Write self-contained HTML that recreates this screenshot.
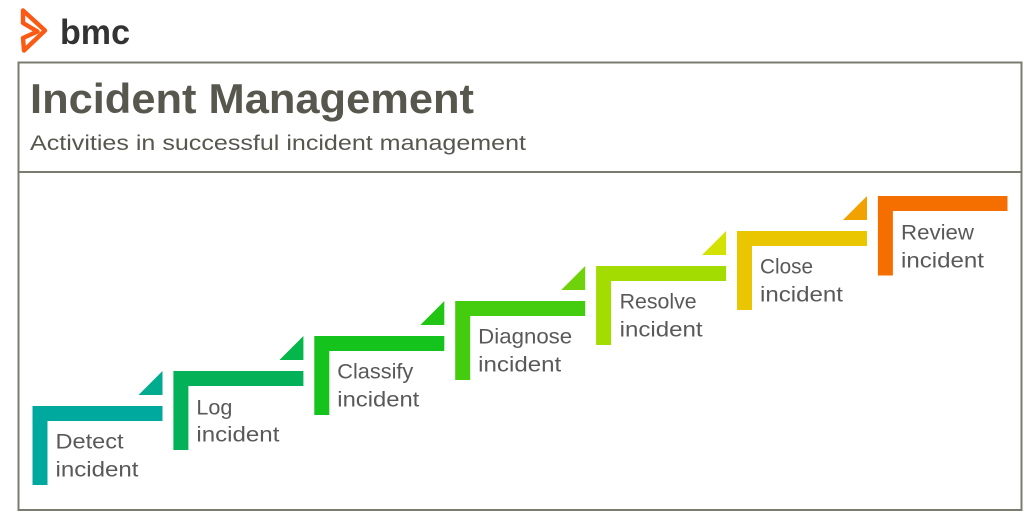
<!DOCTYPE html>
<html>
<head>
<meta charset="utf-8">
<style>
html,body{margin:0;padding:0;background:#fff;}
svg{display:block;}
text{font-family:"Liberation Sans",Arial,sans-serif;}
</style>
</head>
<body>
<svg width="1024" height="522" viewBox="0 0 1024 522" xmlns="http://www.w3.org/2000/svg">
  <rect x="0" y="0" width="1024" height="522" fill="#ffffff"/>
  <!-- bmc logo -->
  <path d="M23 10.5 L45 30.5 L24 50.5 L23 38 L37.5 31.5 L23 23 Z" fill="none" stroke="#fa5a14" stroke-width="4.4" stroke-linejoin="round" stroke-linecap="round"/>
  <text x="60" y="44" font-size="35" font-weight="bold" fill="#333333" textLength="70" lengthAdjust="spacingAndGlyphs">bmc</text>

  <!-- frame -->
  <rect x="18.5" y="62.5" width="1003" height="447.5" fill="none" stroke="#7b7b70" stroke-width="2"/>
  <line x1="18.5" y1="172" x2="1021.5" y2="172" stroke="#7b7b70" stroke-width="2"/>

  <text x="30" y="113" font-size="42" font-weight="bold" fill="#57574e" textLength="444" lengthAdjust="spacingAndGlyphs">Incident Management</text>
  <text x="30" y="150" font-size="21" fill="#57574e" textLength="496" lengthAdjust="spacingAndGlyphs">Activities in successful incident management</text>

  <!-- step 0 Detect -->
  <g>
    <path d="M32.5 406 H162.5 V421 H47.5 V485 H32.5 Z" fill="#00a99d"/>
    <path d="M162.5 371 V395 H138.5 Z" fill="#00ab8e"/>
    <text x="55.5" y="448.5" font-size="21.5" fill="#595959" textLength="68" lengthAdjust="spacingAndGlyphs">Detect</text>
    <text x="55.5" y="476.7" font-size="21.5" fill="#595959" textLength="83" lengthAdjust="spacingAndGlyphs">incident</text>
  </g>
  <!-- step 1 Log -->
  <g>
    <path d="M173.4 371 H303.4 V386 H188.4 V450 H173.4 Z" fill="#03b159"/>
    <path d="M303.4 336 V360 H279.4 Z" fill="#05b64a"/>
    <text x="196.4" y="414.3" font-size="21.5" fill="#595959" textLength="36" lengthAdjust="spacingAndGlyphs">Log</text>
    <text x="196.4" y="441.7" font-size="21.5" fill="#595959" textLength="83" lengthAdjust="spacingAndGlyphs">incident</text>
  </g>
  <!-- step 2 Classify -->
  <g>
    <path d="M314.3 336 H444.3 V351 H329.3 V415 H314.3 Z" fill="#14c31c"/>
    <path d="M444.3 301 V325 H420.3 Z" fill="#22c514"/>
    <text x="337.3" y="378.5" font-size="21.5" fill="#595959" textLength="76" lengthAdjust="spacingAndGlyphs">Classify</text>
    <text x="337.3" y="406.7" font-size="21.5" fill="#595959" textLength="82" lengthAdjust="spacingAndGlyphs">incident</text>
  </g>
  <!-- step 3 Diagnose -->
  <g>
    <path d="M455.2 301 H585.2 V316 H470.2 V380 H455.2 Z" fill="#44cc0e"/>
    <path d="M585.2 266 V290 H561.2 Z" fill="#70d20a"/>
    <text x="478.2" y="343.5" font-size="21.5" fill="#595959" textLength="94" lengthAdjust="spacingAndGlyphs">Diagnose</text>
    <text x="478.2" y="371.7" font-size="21.5" fill="#595959" textLength="83" lengthAdjust="spacingAndGlyphs">incident</text>
  </g>
  <!-- step 4 Resolve -->
  <g>
    <path d="M596.1 266 H726.1 V281 H611.1 V345 H596.1 Z" fill="#a2dc00"/>
    <path d="M726.1 231 V255 H702.1 Z" fill="#d3e200"/>
    <text x="619.6" y="308.5" font-size="21.5" fill="#595959" textLength="77" lengthAdjust="spacingAndGlyphs">Resolve</text>
    <text x="619.6" y="336.7" font-size="21.5" fill="#595959" textLength="83" lengthAdjust="spacingAndGlyphs">incident</text>
  </g>
  <!-- step 5 Close -->
  <g>
    <path d="M737 231 H867 V246 H752 V310 H737 Z" fill="#e9c600"/>
    <path d="M867 196 V220 H843 Z" fill="#f1a200"/>
    <text x="760" y="273.5" font-size="21.5" fill="#595959" textLength="53" lengthAdjust="spacingAndGlyphs">Close</text>
    <text x="760" y="301.7" font-size="21.5" fill="#595959" textLength="83" lengthAdjust="spacingAndGlyphs">incident</text>
  </g>
  <!-- step 6 Review -->
  <g>
    <path d="M877.9 196 H1007.5 V211 H892.9 V275.5 H877.9 Z" fill="#f56f00"/>
    <text x="901" y="239.5" font-size="21.5" fill="#595959" textLength="73" lengthAdjust="spacingAndGlyphs">Review</text>
    <text x="901" y="267.3" font-size="21.5" fill="#595959" textLength="83" lengthAdjust="spacingAndGlyphs">incident</text>
  </g>
</svg>
</body>
</html>
